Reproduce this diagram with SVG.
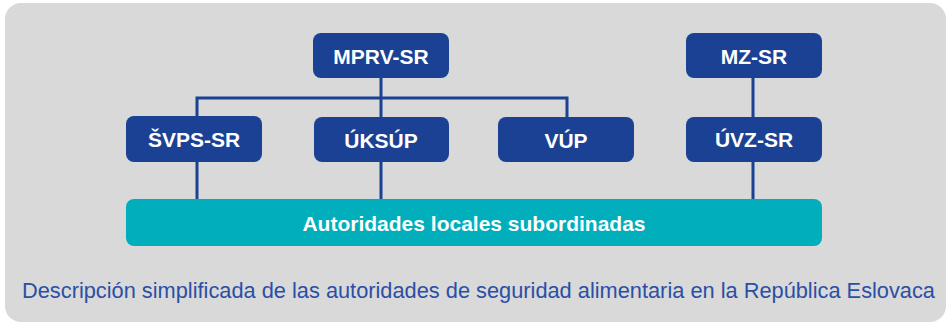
<svg xmlns="http://www.w3.org/2000/svg" width="951" height="325" viewBox="0 0 951 325">
<style>
.node rect{fill:#1a4194}
.node text{fill:#fff;font-family:"Liberation Sans",Arial,sans-serif;font-weight:bold;font-size:21px;text-anchor:middle}
.conn{stroke:#1a4194;stroke-width:3;fill:none}
.cap{fill:#2a4fa5;font-family:"Liberation Sans",Arial,sans-serif;font-size:22px}
</style>
<rect x="0" y="0" width="951" height="325" fill="#fff"/>
<rect x="5" y="3" width="941" height="319" rx="16" fill="#d9d9d9"/>
<g id="connectors">
<path class="conn" d="M381 78V117M197 116V98H567V117M197 162V199M381 162V199M753 78V117M753 162V199"/>
</g>
<g id="mprv" class="node"><rect x="313" y="33" width="136" height="45" rx="8"/><text x="381" y="64">MPRV-SR</text></g>
<g id="mz" class="node"><rect x="686" y="33" width="136" height="45" rx="8"/><text x="754" y="64">MZ-SR</text></g>
<g id="svps" class="node"><rect x="126" y="116" width="136" height="46" rx="8"/><text x="194" y="147">ŠVPS-SR</text></g>
<g id="uksup" class="node"><rect x="314" y="117" width="135" height="45" rx="8"/><text x="381" y="148">ÚKSÚP</text></g>
<g id="vup" class="node"><rect x="498" y="117" width="136" height="45" rx="8"/><text x="566" y="148">VÚP</text></g>
<g id="uvz" class="node"><rect x="686" y="117" width="136" height="45" rx="8"/><text x="754" y="147">ÚVZ-SR</text></g>
<g id="local" class="node"><rect x="126" y="199" width="696" height="47" rx="8" style="fill:#00aebc"/><text x="474" y="231">Autoridades locales subordinadas</text></g>
<text class="cap" x="22" y="298" textLength="913" lengthAdjust="spacingAndGlyphs">Descripción simplificada de las autoridades de seguridad alimentaria en la República Eslovaca</text>
</svg>
